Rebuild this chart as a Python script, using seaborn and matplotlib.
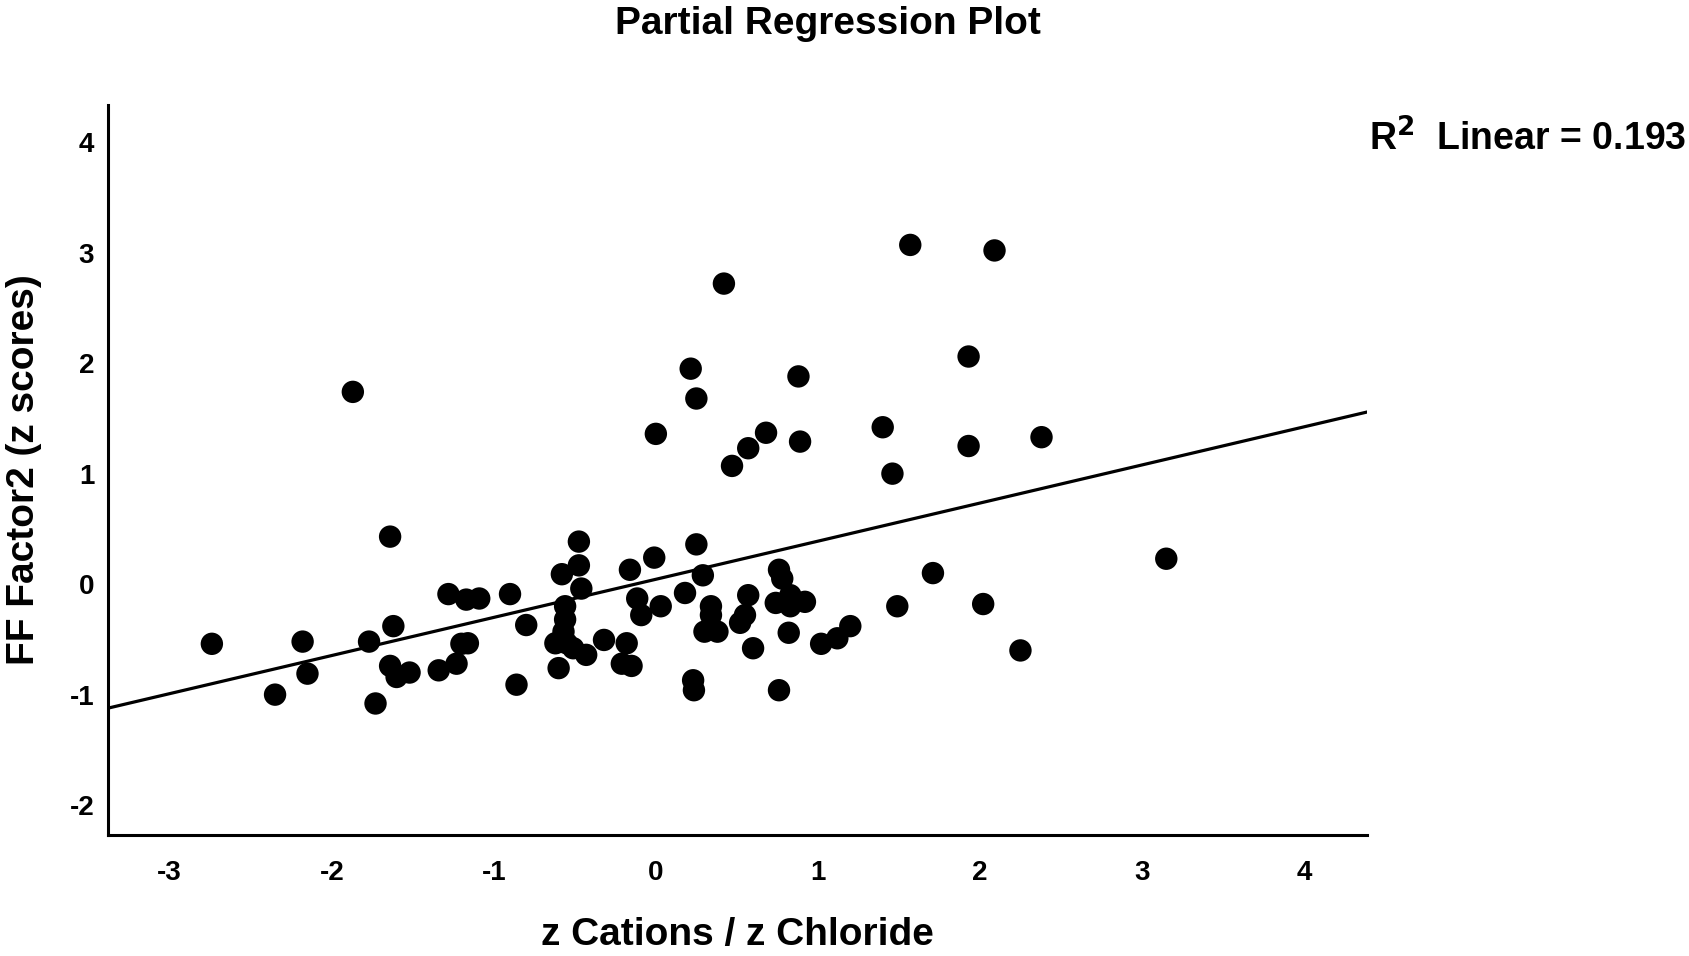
import matplotlib
matplotlib.use('Agg')
import matplotlib.pyplot as plt
import numpy as np
import pandas as pd
import seaborn as sns

# values
z_cations = [
    -2.74, -2.35, -2.18, -2.15, -1.87, -1.77, -1.73, -1.64, -1.62, -1.64,
    -1.60, -1.52, -1.34, -1.28, -1.23, -1.20, -1.16, -1.17, -1.09, -0.90,
    -0.86, -0.80, -0.475, -0.475, -0.58, -0.46, -0.56, -0.56, -0.57, -0.62,
    -0.55, -0.51, -0.43, -0.60, -0.32, -0.18, -0.21, -0.15, -0.16, -0.01,
    -0.115, -0.09, 0.03, 0.18, 0.25, 0.29, 0.34, 0.34, 0.30, 0.38,
    0.23, 0.235, 0.57, 0.55, 0.52, 0.60, 0.76, 0.78, 0.74, 0.83,
    0.83, 0.92, 0.82, 0.76, 1.02, 1.12, 1.20, 1.49, 1.71, 2.02,
    2.25, 3.15, 0.00, 0.215, 0.25, 0.42, 0.47, 0.57, 0.68, 0.88,
    0.89, 1.40, 1.46, 1.57, 1.93, 1.93, 2.09, 2.38,
]
ff_factor2 = [
    -0.54, -1.00, -0.52, -0.81, 1.74, -0.52, -1.08, 0.43, -0.38, -0.74,
    -0.84, -0.80, -0.78, -0.09, -0.72, -0.54, -0.535, -0.14, -0.13, -0.09,
    -0.91, -0.37, 0.385, 0.17, 0.09, -0.04, -0.20, -0.32, -0.43, -0.535,
    -0.535, -0.58, -0.64, -0.76, -0.505, -0.535, -0.72, -0.74, 0.13, 0.24,
    -0.13, -0.28, -0.20, -0.08, 0.36, 0.08, -0.20, -0.28, -0.43, -0.43,
    -0.87, -0.96, -0.10, -0.28, -0.35, -0.58, 0.13, 0.05, -0.17, -0.10,
    -0.20, -0.16, -0.44, -0.96, -0.54, -0.49, -0.38, -0.20, 0.10, -0.18,
    -0.60, 0.23, 1.36, 1.95, 1.68, 2.72, 1.07, 1.23, 1.37, 1.88,
    1.29, 1.42, 1.00, 3.07, 2.06, 1.25, 3.02, 1.33,
]
r2_text = "R$\\mathbf{^2}$  Linear = 0.193"

df = pd.DataFrame({'x': z_cations, 'y': ff_factor2})

sns.set_style('white')
plt.rcParams['font.family'] = ['Liberation Sans', 'DejaVu Sans']
plt.rcParams['axes.unicode_minus'] = False
plt.rcParams['text.color'] = 'black'
plt.rcParams['axes.labelcolor'] = 'black'
plt.rcParams['xtick.color'] = 'black'
plt.rcParams['ytick.color'] = 'black'

fig = plt.figure(figsize=(16.9, 9.56), dpi=100)
ax = fig.add_axes([0.064, 0.1266, 0.745, 0.764])
ax.set_xlim(-3.38, 4.39)
ax.set_ylim(-2.27, 4.34)

sns.regplot(data=df, x='x', y='y', ax=ax, ci=None, truncate=False,
            scatter_kws={'s': 260, 'color': 'black', 'edgecolor': 'none', 'alpha': 1},
            line_kws={'color': 'black', 'lw': 2.3})

ax.set_xlim(-3.38, 4.39)
ax.set_ylim(-2.27, 4.34)
ax.set_xticks(range(-3, 5))
ax.set_yticks(range(-2, 5))
ax.tick_params(axis='x', length=0, labelsize=20, pad=18)
ax.tick_params(axis='y', length=0, labelsize=20, pad=10)
for lab in ax.get_xticklabels() + ax.get_yticklabels():
    lab.set_fontweight('bold')

sns.despine(ax=ax)
for side in ['left', 'bottom']:
    ax.spines[side].set_color('black')
    ax.spines[side].set_linewidth(2.2)

ax.set_xlabel('z Cations / z Chloride', fontsize=28, fontweight='bold')
ax.set_ylabel('FF Factor2 (z scores)', fontsize=28, fontweight='bold')
ax.xaxis.set_label_coords(0.5, -0.1376)
ax.xaxis.label.set_va('center')
ax.yaxis.set_label_coords(-0.0667, 0.5)
ax.yaxis.label.set_va('center')

fig.text(0.49, 0.975, 'Partial Regression Plot', ha='center', va='center',
         fontsize=28, fontweight='bold')
fig.text(0.810, 0.855, r2_text, ha='left', va='center', fontsize=27, fontweight='bold')

fig.savefig('out.png', dpi=100)
